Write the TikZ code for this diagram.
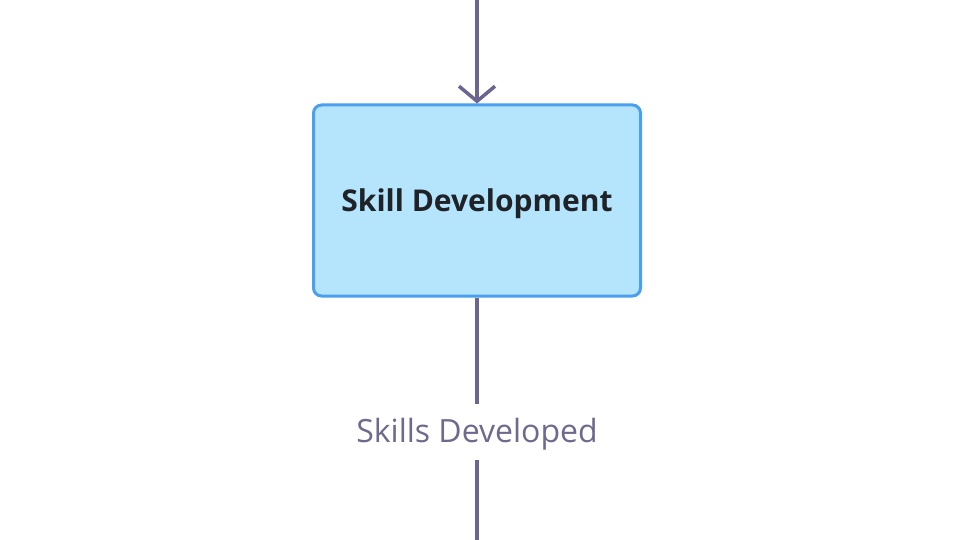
\documentclass[tikz,border=0pt]{standalone}
\usepackage{fontspec}
\setmainfont{Open Sans}
\usetikzlibrary{arrows.meta}
\definecolor{edgec}{HTML}{6B6590}
\definecolor{boxfill}{HTML}{B5E4FD}
\definecolor{boxline}{HTML}{4A9FEE}
\definecolor{txt}{HTML}{1F2328}
\definecolor{lbl}{HTML}{6E6A8E}
\tikzset{
  procbox/.style={draw=boxline, fill=boxfill, line width=3pt, rounded corners=8pt,
    minimum width=327pt, minimum height=191pt, inner sep=0pt,
    text height=22pt, text depth=0pt,
    font=\fontsize{30pt}{35pt}\selectfont\bfseries, text=txt},
  conn/.style={draw=edgec, line width=3.5pt},
  arr/.style={-{Straight Barb[length=15pt, width=36pt, line width=3.5pt]}},
  elabel/.style={fill=white, text=lbl, inner sep=0pt, minimum height=56pt,
    text height=20pt, text depth=0pt,
    minimum width=260pt, font=\fontsize{32pt}{37pt}\selectfont}
}
\begin{document}
\begin{tikzpicture}[x=1pt, y=-1pt]
\useasboundingbox (0,0) rectangle (960,540);
\fill[white] (0,0) rectangle (960,540);
\node[procbox] (sd) at (477,200.5) {Skill Development};
\coordinate (top) at (477,0);
\coordinate (bot) at (477,567);
\draw[conn, arr] (top) -- (sd.north);
\draw[conn] (sd.south) -- node[elabel] (lab) {Skills Developed} (bot);
\end{tikzpicture}
\end{document}
